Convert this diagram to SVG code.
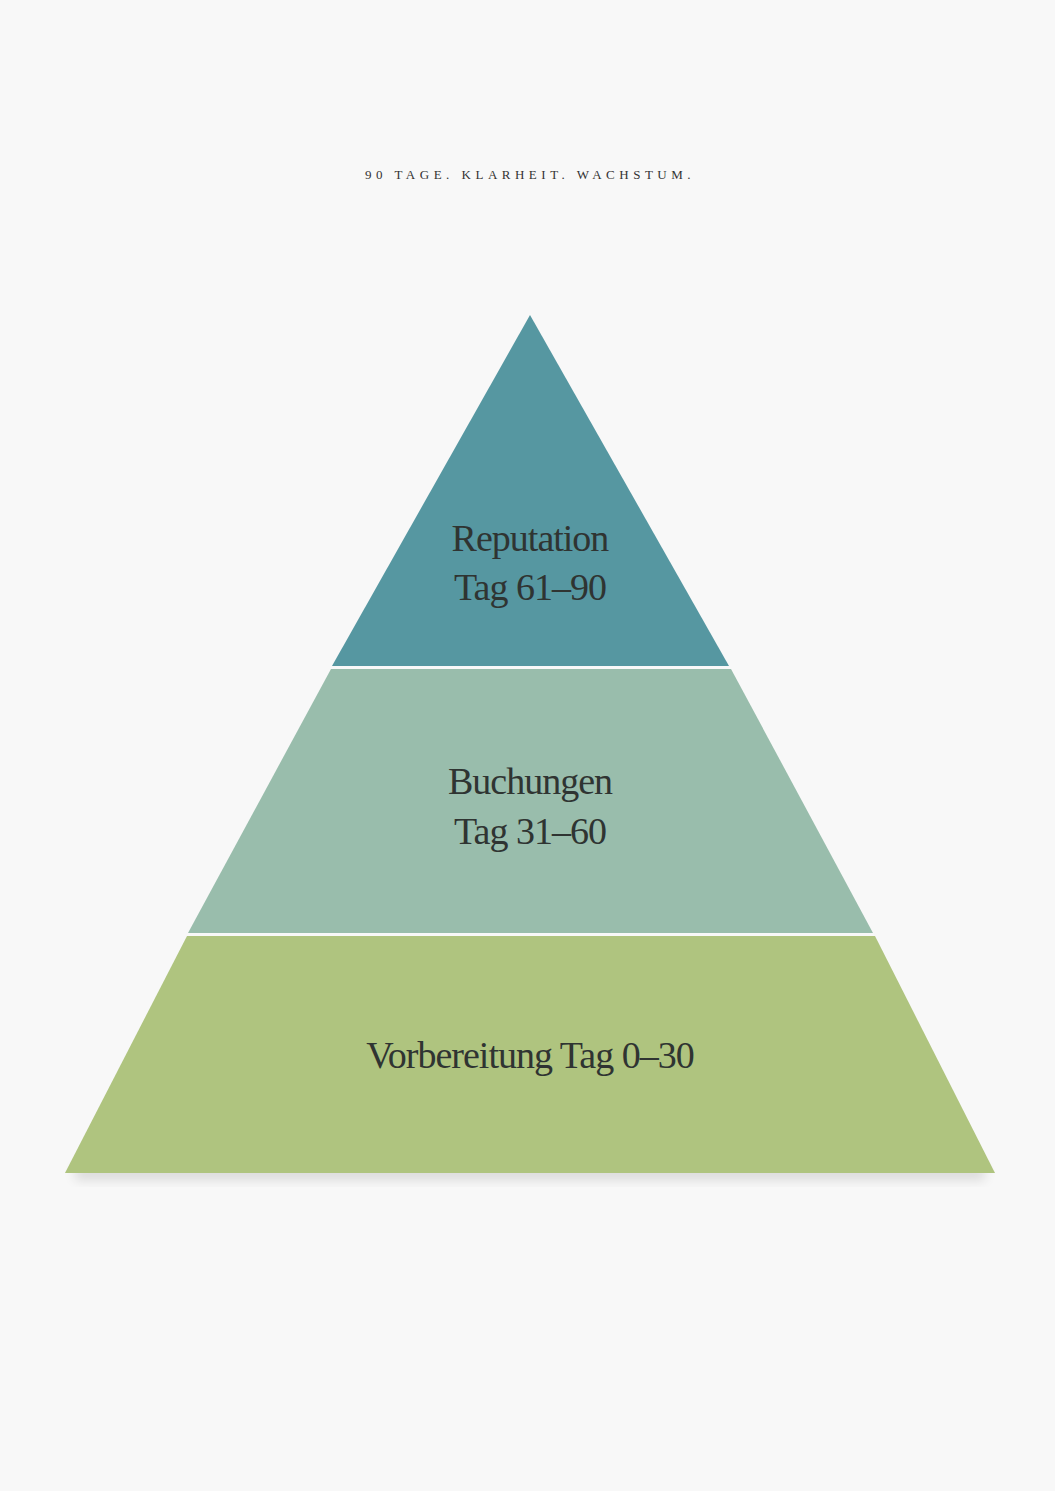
<svg xmlns="http://www.w3.org/2000/svg" width="1055" height="1491" viewBox="0 0 1055 1491">
<style>
.lbl{font-family:"Liberation Serif","DejaVu Serif",serif;font-size:38px;fill:#2f3432;text-anchor:middle;letter-spacing:-1px}
.title{font-family:"Liberation Serif",serif;font-size:13px;fill:#333;text-anchor:middle;letter-spacing:4.5px}
</style>
<defs><filter id="sh" x="-10%" y="-50%" width="120%" height="200%"><feGaussianBlur stdDeviation="6"/></filter></defs>
<rect width="1055" height="1491" fill="#f8f8f8"/>
<text class="title" x="530" y="179">90 TAGE. KLARHEIT. WACHSTUM.</text>
<rect x="75" y="1166" width="910" height="14" fill="#000" opacity="0.12" filter="url(#sh)"/>
<g id="top"><polygon points="530,315 729,666 332,666" fill="#5697a1"/>
<text class="lbl" x="530" y="551">Reputation</text><text class="lbl" x="530" y="600">Tag 61–90</text></g>
<g id="middle"><polygon points="331,669 731,669 873,933 188,933" fill="#99bdac"/>
<text class="lbl" x="530" y="794">Buchungen</text><text class="lbl" x="530" y="844">Tag 31–60</text></g>
<g id="bottom"><polygon points="187,936 875,936 995,1173 65,1173" fill="#afc47f"/>
<text class="lbl" x="530" y="1068">Vorbereitung Tag 0–30</text></g>
<g id="connectors"/>
</svg>
